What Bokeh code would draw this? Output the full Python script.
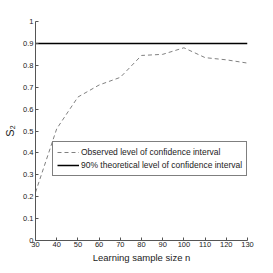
from bokeh.plotting import figure
from bokeh.models import Range1d, FixedTicker, Legend, LegendItem
from bokeh.embed import file_html
from bokeh.resources import INLINE

sample_size = [30, 40, 50, 60, 70, 80, 90, 100, 110, 120, 130]
observed = [0.22, 0.51, 0.655, 0.71, 0.745, 0.845, 0.85, 0.88, 0.835, 0.825, 0.81]
theoretical = 0.9
x_ticks = [30, 40, 50, 60, 70, 80, 90, 100, 110, 120, 130]
y_ticks = [0, 0.1, 0.2, 0.3, 0.4, 0.5, 0.6, 0.7, 0.8, 0.9, 1]
y_tick_labels = {0: "0", 0.1: "0.1", 0.2: "0.2", 0.3: "0.3", 0.4: "0.4", 0.5: "0.5",
                 0.6: "0.6", 0.7: "0.7", 0.8: "0.8", 0.9: "0.9", 1: "1"}

FONT = "Liberation Sans"

p = figure(width=265, height=265, output_backend="svg", toolbar_location=None,
           x_range=Range1d(30, 130), y_range=Range1d(0, 1),
           min_border_left=35, min_border_right=18, min_border_top=21, min_border_bottom=23)
p.outline_line_color = None
p.xgrid.visible = False
p.ygrid.visible = False
p.background_fill_color = "white"
p.border_fill_color = "white"

r_obs = p.line(sample_size, observed, line_color="#808080", line_width=1, line_dash="4 3")
r_th = p.line([sample_size[0], sample_size[-1]], [theoretical, theoretical],
              line_color="black", line_width=1.5)

for ax in (p.xaxis[0], p.yaxis[0]):
    ax.major_tick_in = 3
    ax.major_tick_out = 0
    ax.minor_tick_in = 0
    ax.minor_tick_out = 0
    ax.axis_line_color = "#555555"
    ax.major_tick_line_color = "#555555"
    ax.major_label_text_font = FONT
    ax.major_label_text_font_size = "7.5px"
    ax.major_label_text_color = "#222222"
    ax.axis_label_text_font = FONT
    ax.axis_label_text_font_size = "9.5px"
    ax.axis_label_text_font_style = "normal"
    ax.axis_label_text_color = "#222222"

p.yaxis.axis_label_text_font_size = "11px"
p.xaxis.ticker = FixedTicker(ticks=x_ticks)
p.yaxis.ticker = FixedTicker(ticks=y_ticks)
p.yaxis.major_label_overrides = y_tick_labels
p.xaxis.axis_label = "Learning sample size n"
p.yaxis.axis_label = "S₂"
p.xaxis.major_label_standoff = 1
p.yaxis.major_label_standoff = 2
p.xaxis.axis_label_standoff = 2
p.yaxis.axis_label_standoff = 4

legend = Legend(items=[
    LegendItem(label="Observed level of confidence interval", renderers=[r_obs]),
    LegendItem(label="90% theoretical level of confidence interval", renderers=[r_th]),
], location=(17, 64))
legend.label_text_font = FONT
legend.label_text_font_size = "8.5px"
legend.label_text_color = "#222222"
legend.label_height = 12
legend.glyph_height = 12
legend.glyph_width = 22
legend.label_standoff = 2
legend.spacing = 1
legend.padding = 4
legend.margin = 0
legend.border_line_color = "black"
legend.border_line_width = 1
legend.background_fill_alpha = 1
p.add_layout(legend, "center")

open("out.html", "w").write(file_html(p, INLINE))
